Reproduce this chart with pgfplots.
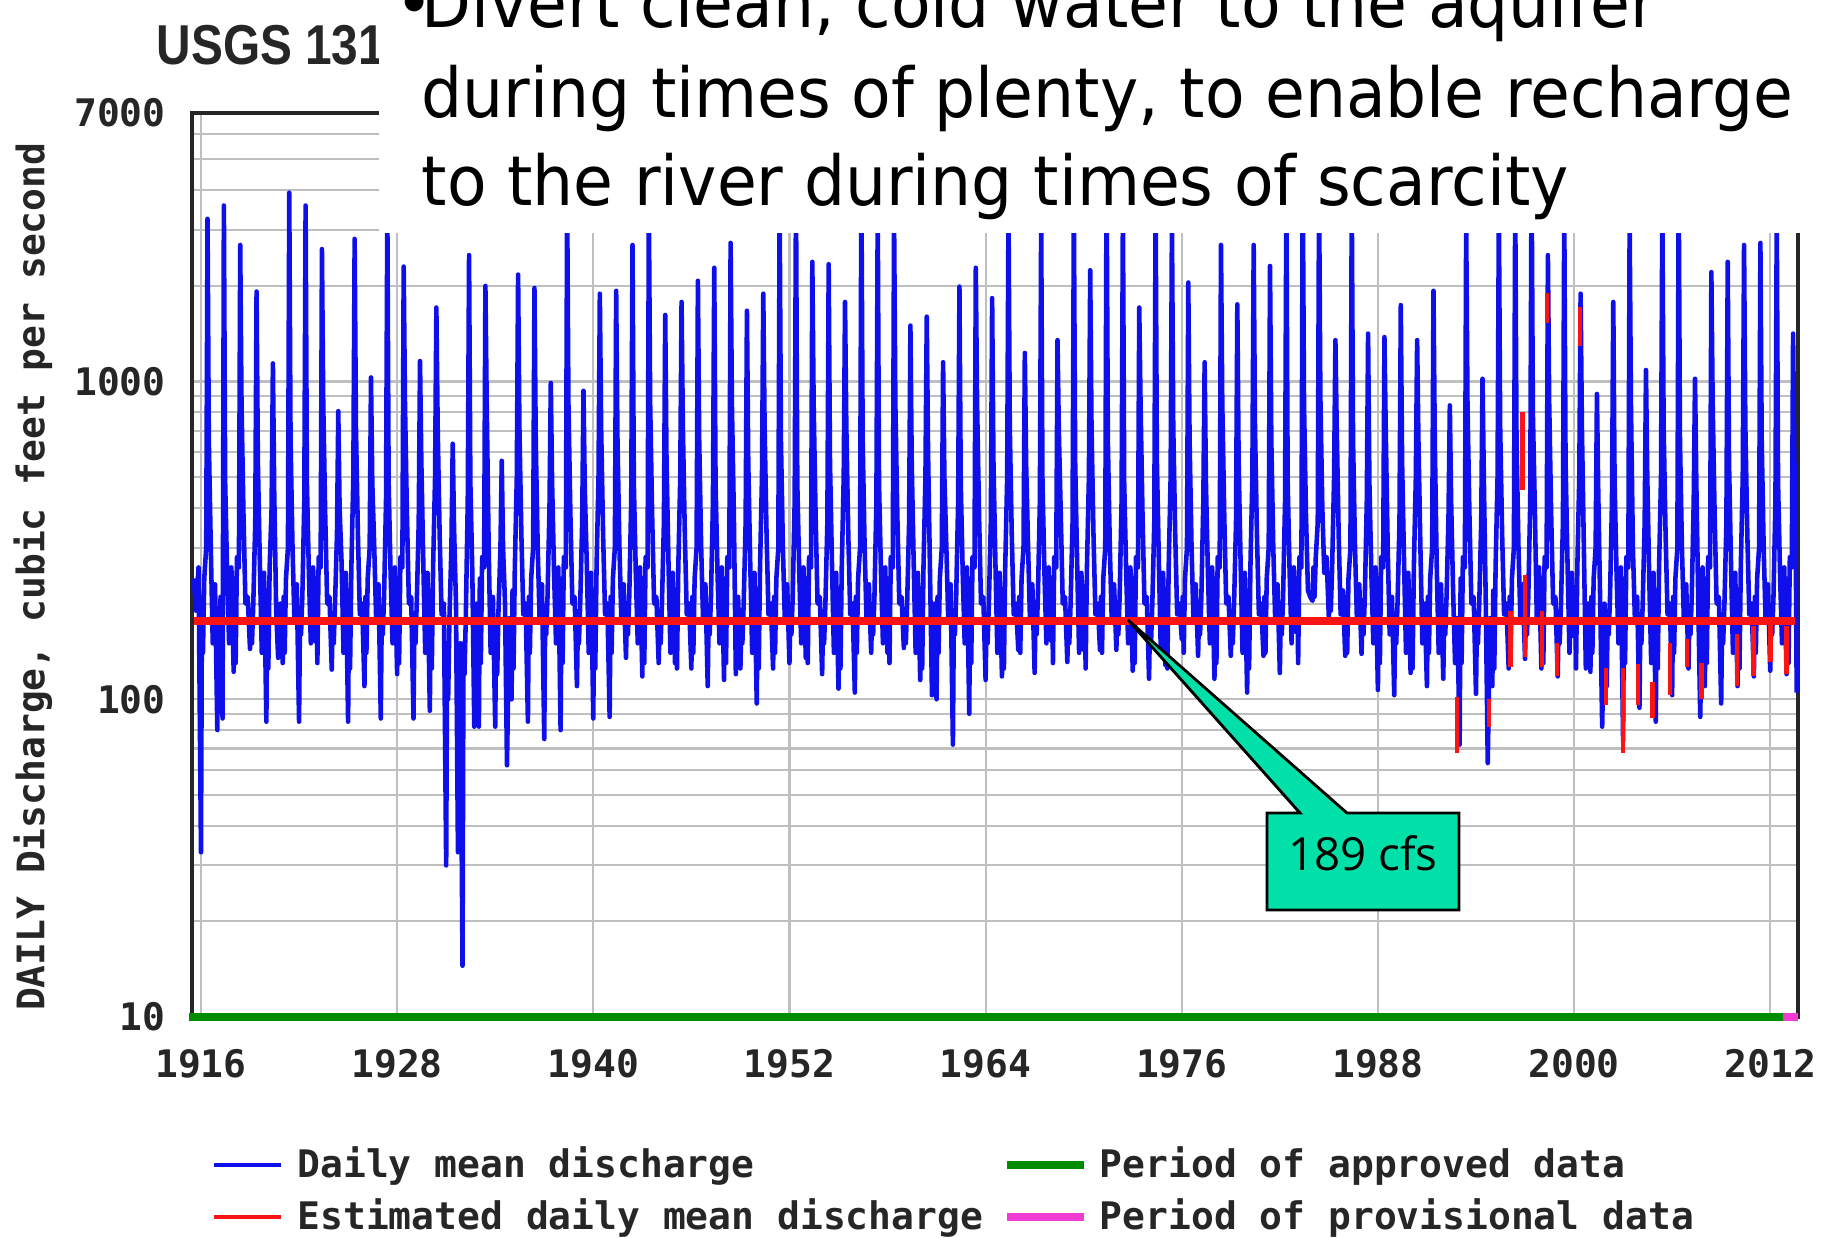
\documentclass[border=0pt]{standalone}
\usepackage{pgfplots}
\pgfplotsset{compat=1.18}
\usepackage{fontspec}
\setmainfont{DejaVu Sans}
\newfontfamily\monob{DejaVu Sans Mono}
\newfontfamily\tahoma[FakeStretch=0.94]{DejaVu Sans}
\newfontfamily\titlef[FakeStretch=0.85]{Liberation Sans}
\newfontfamily\calloutf{Open Sans}
\definecolor{qblue}{RGB}{15,15,235}
\definecolor{qred}{RGB}{250,20,20}
\definecolor{qgreen}{RGB}{0,140,0}
\definecolor{qmag}{RGB}{240,60,210}
\definecolor{qteal}{RGB}{0,224,168}
\begin{document}
\begin{tikzpicture}
\useasboundingbox (0,0) rectangle (182.9mm,-123.7mm);
\begin{axis}[
  at={(19.2mm,-101.7mm)}, anchor=south west,
  scale only axis, width=160.6mm, height=90.4mm,
  xmin=1915.45, xmax=2013.7,
  ymode=log, ymin=10, ymax=7000,
  xtick={1916,1928,1940,1952,1964,1976,1988,2000,2012},
  xticklabels={1916,1928,1940,1952,1964,1976,1988,2000,2012},
  ytick={10,100,1000,7000},
  yticklabels={10,100,1000,7000},
  minor ytick={20,30,40,50,60,70,80,90,200,300,400,500,600,700,800,900,2000,3000,4000,5000,6000},
  grid=both,
  major grid style={draw=black!25, line width=0.6pt},
  minor grid style={draw=black!25, line width=0.6pt},
  major tick length=0pt, minor tick length=0pt,
  axis line style={draw=black!85, line width=1.1pt},
  tick label style={font=\monob\bfseries\fontsize{10.8}{12}\selectfont, text=black!85},
  yticklabel style={xshift=-1.4mm},
  xticklabel style={yshift=-2mm},
  ylabel={DAILY Discharge, cubic feet per second},
  ylabel style={font=\monob\bfseries\fontsize{10.8}{12}\selectfont, text=black!85, at={(axis description cs:-0.099,0.487)}, anchor=center},
  clip=false,
  no markers,
  unbounded coords=jump,
  every axis plot/.append style={line join=round},
  legend columns=2,
  legend cell align=left,
  legend image code/.code={\draw[#1] (0mm,0mm) -- (6.7mm,0mm); \path (7.3mm,0mm);},
  legend style={at={(axis description cs:0.012,-0.134)}, anchor=north west, draw=none, fill=none, inner sep=0pt,
    font=\monob\bfseries\fontsize{10.8}{12}\selectfont, text=black!85,
    nodes={inner sep=0.8mm},
    /tikz/every even column/.append style={column sep=1.2mm}, row sep=0mm},
]
\addplot[qblue, line width=1.3pt] coordinates {
(1915.55,240) (1915.70,190) (1915.85,260)
(1916.00,33) (1916.06,210) (1916.12,140) (1916.20,240) (1916.32,300) (1916.40,3250) (1916.48,650) (1916.60,300) (1916.72,150) (1916.86,230)
(1917.00,80) (1917.06,190) (1917.12,160) (1917.20,210) (1917.32,87) (1917.40,3580) (1917.48,480) (1917.60,250) (1917.72,150) (1917.86,260)
(1918.00,122) (1918.06,240) (1918.12,130) (1918.20,280) (1918.32,260) (1918.40,2690) (1918.48,850) (1918.60,380) (1918.72,200) (1918.86,210)
(1919.00,144) (1919.06,180) (1919.12,150) (1919.20,200) (1919.32,360) (1919.40,1920) (1919.48,560) (1919.60,270) (1919.72,140) (1919.86,250)
(1920.00,85) (1920.06,220) (1920.12,125) (1920.20,260) (1920.32,400) (1920.40,1140) (1920.48,450) (1920.60,190) (1920.72,135) (1920.86,200)
(1921.00,130) (1921.06,210) (1921.12,140) (1921.20,240) (1921.32,300) (1921.40,3930) (1921.48,650) (1921.60,300) (1921.72,175) (1921.86,230)
(1922.00,85) (1922.06,190) (1922.12,160) (1922.20,210) (1922.32,420) (1922.40,3580) (1922.48,480) (1922.60,250) (1922.72,150) (1922.86,260)
(1923.00,152) (1923.06,240) (1923.12,130) (1923.20,280) (1923.32,260) (1923.40,2610) (1923.48,850) (1923.60,380) (1923.72,200) (1923.86,210)
(1924.00,124) (1924.06,180) (1924.12,150) (1924.20,200) (1924.32,330) (1924.40,807) (1924.48,400) (1924.60,270) (1924.72,140) (1924.86,250)
(1925.00,85) (1925.06,220) (1925.12,125) (1925.20,260) (1925.32,500) (1925.40,2810) (1925.48,720) (1925.60,330) (1925.72,185) (1925.86,200)
(1926.00,110) (1926.06,210) (1926.12,140) (1926.20,240) (1926.32,300) (1926.40,1030) (1926.48,480) (1926.60,300) (1926.72,175) (1926.86,230)
(1927.00,87) (1927.06,190) (1927.12,160) (1927.20,210) (1927.32,420) (1927.40,3500) (1927.48,480) (1927.60,250) (1927.72,150) (1927.86,260)
(1928.00,120) (1928.06,240) (1928.12,130) (1928.20,280) (1928.32,260) (1928.40,2300) (1928.48,850) (1928.60,380) (1928.72,200) (1928.86,210)
(1929.00,87) (1929.06,180) (1929.12,150) (1929.20,200) (1929.32,360) (1929.40,1160) (1929.48,560) (1929.60,270) (1929.72,140) (1929.86,250)
(1930.00,92) (1930.06,220) (1930.12,125) (1930.20,260) (1930.32,500) (1930.40,1710) (1930.48,720) (1930.60,330) (1930.72,185) (1930.86,200)
(1931.00,30) (1931.06,150) (1931.12,100) (1931.20,180) (1931.32,300) (1931.40,637) (1931.48,350) (1931.60,200) (1931.72,33) (1931.86,150)
(1932.00,14.5) (1932.06,150) (1932.12,120) (1932.20,180) (1932.32,420) (1932.40,2500) (1932.48,480) (1932.60,250) (1932.72,82) (1932.86,200)
(1933.00,82) (1933.06,240) (1933.12,130) (1933.20,280) (1933.32,260) (1933.40,2000) (1933.48,850) (1933.60,300) (1933.72,140) (1933.86,210)
(1934.00,82) (1934.06,170) (1934.12,120) (1934.20,190) (1934.32,300) (1934.40,563) (1934.48,300) (1934.60,200) (1934.72,62) (1934.86,180)
(1935.00,100) (1935.06,220) (1935.12,125) (1935.20,260) (1935.32,500) (1935.40,2170) (1935.48,720) (1935.60,330) (1935.72,185) (1935.86,200)
(1936.00,85) (1936.06,210) (1936.12,140) (1936.20,240) (1936.32,300) (1936.40,1970) (1936.48,650) (1936.60,300) (1936.72,175) (1936.86,230)
(1937.00,75) (1937.06,190) (1937.12,160) (1937.20,210) (1937.32,400) (1937.40,990) (1937.48,480) (1937.60,250) (1937.72,150) (1937.86,260)
(1938.00,80) (1938.06,240) (1938.12,130) (1938.20,280) (1938.32,260) (1938.40,3800) (1938.48,850) (1938.60,380) (1938.72,200) (1938.86,210)
(1939.00,110) (1939.06,180) (1939.12,150) (1939.20,200) (1939.32,360) (1939.40,935) (1939.48,460) (1939.60,270) (1939.72,140) (1939.86,250)
(1940.00,87) (1940.06,220) (1940.12,125) (1940.20,260) (1940.32,500) (1940.40,1890) (1940.48,720) (1940.60,330) (1940.72,185) (1940.86,200)
(1941.00,88) (1941.06,210) (1941.12,140) (1941.20,240) (1941.32,300) (1941.40,1930) (1941.48,650) (1941.60,300) (1941.72,175) (1941.86,230)
(1942.00,135) (1942.06,190) (1942.12,160) (1942.20,210) (1942.32,420) (1942.40,2690) (1942.48,480) (1942.60,250) (1942.72,150) (1942.86,260)
(1943.00,118) (1943.06,240) (1943.12,130) (1943.20,280) (1943.32,260) (1943.40,3500) (1943.48,850) (1943.60,380) (1943.72,200) (1943.86,210)
(1944.00,130) (1944.06,180) (1944.12,150) (1944.20,200) (1944.32,360) (1944.40,1620) (1944.48,560) (1944.60,270) (1944.72,140) (1944.86,250)
(1945.00,130) (1945.06,220) (1945.12,125) (1945.20,260) (1945.32,500) (1945.40,1780) (1945.48,720) (1945.60,330) (1945.72,185) (1945.86,200)
(1946.00,125) (1946.06,210) (1946.12,140) (1946.20,240) (1946.32,300) (1946.40,2075) (1946.48,650) (1946.60,300) (1946.72,175) (1946.86,230)
(1947.00,110) (1947.06,190) (1947.12,160) (1947.20,210) (1947.32,420) (1947.40,2280) (1947.48,480) (1947.60,250) (1947.72,150) (1947.86,260)
(1948.00,115) (1948.06,240) (1948.12,130) (1948.20,280) (1948.32,260) (1948.40,2730) (1948.48,850) (1948.60,380) (1948.72,120) (1948.86,210)
(1949.00,125) (1949.06,180) (1949.12,150) (1949.20,200) (1949.32,360) (1949.40,1670) (1949.48,560) (1949.60,270) (1949.72,140) (1949.86,250)
(1950.00,97) (1950.06,220) (1950.12,125) (1950.20,260) (1950.32,500) (1950.40,1890) (1950.48,720) (1950.60,330) (1950.72,185) (1950.86,200)
(1951.00,125) (1951.06,210) (1951.12,140) (1951.20,240) (1951.32,300) (1951.40,3600) (1951.48,650) (1951.60,300) (1951.72,175) (1951.86,230)
(1952.00,130) (1952.06,190) (1952.12,160) (1952.20,210) (1952.32,420) (1952.40,4000) (1952.48,480) (1952.60,250) (1952.72,150) (1952.86,260)
(1953.00,135) (1953.06,240) (1953.12,130) (1953.20,280) (1953.32,260) (1953.40,2380) (1953.48,850) (1953.60,380) (1953.72,200) (1953.86,210)
(1954.00,120) (1954.06,180) (1954.12,150) (1954.20,200) (1954.32,360) (1954.40,2340) (1954.48,560) (1954.60,270) (1954.72,140) (1954.86,250)
(1955.00,108) (1955.06,220) (1955.12,125) (1955.20,260) (1955.32,500) (1955.40,1780) (1955.48,720) (1955.60,330) (1955.72,185) (1955.86,200)
(1956.00,105) (1956.06,210) (1956.12,140) (1956.20,240) (1956.32,300) (1956.40,4200) (1956.48,650) (1956.60,300) (1956.72,175) (1956.86,230)
(1957.00,140) (1957.06,190) (1957.12,160) (1957.20,210) (1957.32,420) (1957.40,3500) (1957.48,480) (1957.60,250) (1957.72,150) (1957.86,260)
(1958.00,140) (1958.06,240) (1958.12,130) (1958.20,280) (1958.32,260) (1958.40,3300) (1958.48,850) (1958.60,380) (1958.72,200) (1958.86,210)
(1959.00,145) (1959.06,180) (1959.12,150) (1959.20,200) (1959.32,360) (1959.40,1500) (1959.48,560) (1959.60,270) (1959.72,140) (1959.86,250)
(1960.00,115) (1960.06,220) (1960.12,125) (1960.20,260) (1960.32,500) (1960.40,1600) (1960.48,600) (1960.60,250) (1960.72,103) (1960.86,200)
(1961.00,100) (1961.06,210) (1961.12,140) (1961.20,240) (1961.32,300) (1961.40,1150) (1961.48,500) (1961.60,300) (1961.72,175) (1961.86,230)
(1962.00,72) (1962.06,190) (1962.12,160) (1962.20,210) (1962.32,420) (1962.40,1990) (1962.48,480) (1962.60,250) (1962.72,150) (1962.86,260)
(1963.00,90) (1963.06,240) (1963.12,130) (1963.20,280) (1963.32,260) (1963.40,2280) (1963.48,850) (1963.60,380) (1963.72,200) (1963.86,210)
(1964.00,115) (1964.06,180) (1964.12,150) (1964.20,200) (1964.32,360) (1964.40,1830) (1964.48,560) (1964.60,270) (1964.72,140) (1964.86,250)
(1965.00,118) (1965.06,220) (1965.12,125) (1965.20,260) (1965.32,500) (1965.40,3500) (1965.48,720) (1965.60,330) (1965.72,185) (1965.86,200)
(1966.00,143) (1966.06,210) (1966.12,140) (1966.20,240) (1966.32,300) (1966.40,1230) (1966.48,550) (1966.60,300) (1966.72,175) (1966.86,230)
(1967.00,121) (1967.06,190) (1967.12,160) (1967.20,210) (1967.32,420) (1967.40,3200) (1967.48,480) (1967.60,250) (1967.72,150) (1967.86,260)
(1968.00,153) (1968.06,240) (1968.12,130) (1968.20,280) (1968.32,260) (1968.40,1350) (1968.48,700) (1968.60,380) (1968.72,200) (1968.86,210)
(1969.00,131) (1969.06,180) (1969.12,150) (1969.20,200) (1969.32,360) (1969.40,3500) (1969.48,560) (1969.60,270) (1969.72,140) (1969.86,250)
(1970.00,143) (1970.06,220) (1970.12,125) (1970.20,260) (1970.32,500) (1970.40,2240) (1970.48,720) (1970.60,330) (1970.72,185) (1970.86,200)
(1971.00,143) (1971.06,210) (1971.12,140) (1971.20,240) (1971.32,300) (1971.40,4500) (1971.48,650) (1971.60,300) (1971.72,175) (1971.86,230)
(1972.00,143) (1972.06,190) (1972.12,160) (1972.20,210) (1972.32,420) (1972.40,3500) (1972.48,480) (1972.60,250) (1972.72,150) (1972.86,260)
(1973.00,123) (1973.06,240) (1973.12,130) (1973.20,280) (1973.32,260) (1973.40,1710) (1973.48,850) (1973.60,380) (1973.72,200) (1973.86,210)
(1974.00,116) (1974.06,180) (1974.12,150) (1974.20,200) (1974.32,360) (1974.40,3600) (1974.48,560) (1974.60,270) (1974.72,140) (1974.86,250)
(1975.00,128) (1975.06,220) (1975.12,125) (1975.20,260) (1975.32,500) (1975.40,3200) (1975.48,720) (1975.60,330) (1975.72,185) (1975.86,200)
(1976.00,155) (1976.06,210) (1976.12,140) (1976.20,240) (1976.32,300) (1976.40,2050) (1976.48,650) (1976.60,300) (1976.72,175) (1976.86,230)
(1977.00,137) (1977.06,190) (1977.12,160) (1977.20,210) (1977.32,420) (1977.40,1150) (1977.48,480) (1977.60,250) (1977.72,150) (1977.86,260)
(1978.00,116) (1978.06,240) (1978.12,130) (1978.20,280) (1978.32,260) (1978.40,2690) (1978.48,850) (1978.60,380) (1978.72,200) (1978.86,210)
(1979.00,137) (1979.06,180) (1979.12,150) (1979.20,200) (1979.32,360) (1979.40,1750) (1979.48,560) (1979.60,270) (1979.72,140) (1979.86,250)
(1980.00,105) (1980.06,220) (1980.12,125) (1980.20,260) (1980.32,500) (1980.40,2690) (1980.48,720) (1980.60,330) (1980.72,185) (1980.86,200)
(1981.00,137) (1981.06,210) (1981.12,140) (1981.20,240) (1981.32,300) (1981.40,2310) (1981.48,650) (1981.60,300) (1981.72,175) (1981.86,230)
(1982.00,121) (1982.06,190) (1982.12,160) (1982.20,210) (1982.32,420) (1982.40,3800) (1982.48,480) (1982.60,250) (1982.72,150) (1982.86,260)
(1983.00,163) (1983.06,240) (1983.12,130) (1983.20,280) (1983.32,260) (1983.40,4500) (1983.48,850) (1983.60,380) (1983.72,220) (1983.86,210)
(1984.00,204) (1984.06,260) (1984.12,210) (1984.20,280) (1984.32,360) (1984.40,4000) (1984.48,900) (1984.60,400) (1984.72,250) (1984.86,280)
(1985.00,180) (1985.06,240) (1985.12,190) (1985.20,260) (1985.32,500) (1985.40,1350) (1985.48,720) (1985.60,330) (1985.72,185) (1985.86,220)
(1986.00,137) (1986.06,210) (1986.12,140) (1986.20,240) (1986.32,300) (1986.40,3800) (1986.48,650) (1986.60,300) (1986.72,175) (1986.86,230)
(1987.00,139) (1987.06,190) (1987.12,160) (1987.20,210) (1987.32,420) (1987.40,1415) (1987.48,480) (1987.60,250) (1987.72,150) (1987.86,260)
(1988.00,107) (1988.06,240) (1988.12,130) (1988.20,280) (1988.32,260) (1988.40,1380) (1988.48,700) (1988.60,300) (1988.72,160) (1988.86,210)
(1989.00,103) (1989.06,180) (1989.12,150) (1989.20,200) (1989.32,360) (1989.40,1740) (1989.48,560) (1989.60,270) (1989.72,140) (1989.86,250)
(1990.00,121) (1990.06,220) (1990.12,125) (1990.20,260) (1990.32,500) (1990.40,1350) (1990.48,650) (1990.60,300) (1990.72,150) (1990.86,200)
(1991.00,110) (1991.06,210) (1991.12,140) (1991.20,240) (1991.32,300) (1991.40,1930) (1991.48,650) (1991.60,260) (1991.72,140) (1991.86,230)
(1992.00,116) (1992.06,190) (1992.12,160) (1992.20,210) (1992.32,380) (1992.40,841) (1992.48,420) (1992.60,220) (1992.72,130) (1992.86,180)
(1993.00,72) (1993.06,240) (1993.12,130) (1993.20,280) (1993.32,260) (1993.40,3200) (1993.48,850) (1993.60,380) (1993.72,200) (1993.86,210)
(1994.00,104) (1994.06,180) (1994.12,150) (1994.20,200) (1994.32,360) (1994.40,1020) (1994.48,500) (1994.60,200) (1994.72,63) (1994.86,180)
(1995.00,110) (1995.06,220) (1995.12,125) (1995.20,260) (1995.32,500) (1995.40,3500) (1995.48,720) (1995.60,330) (1995.72,185) (1995.86,200)
(1996.00,125) (1996.06,210) (1996.12,140) (1996.20,240) (1996.32,300) (1996.40,3800) (1996.48,650) (1996.60,300) (1996.72,175) (1996.86,230)
(1997.00,134) (1997.06,190) (1997.12,160) (1997.20,210) (1997.32,420) (1997.40,4800) (1997.48,800) (1997.60,400) (1997.72,180) (1997.86,260)
(1998.00,125) (1998.06,240) (1998.12,130) (1998.20,280) (1998.32,260) (1998.40,2500) (1998.48,850) (1998.60,380) (1998.72,200) (1998.86,210)
(1999.00,118) (1999.06,180) (1999.12,150) (1999.20,200) (1999.32,360) (1999.40,3500) (1999.48,560) (1999.60,270) (1999.72,140) (1999.86,250)
(2000.00,158) (2000.06,220) (2000.12,125) (2000.20,260) (2000.32,500) (2000.40,1890) (2000.48,720) (2000.60,300) (2000.72,125) (2000.86,200)
(2001.00,122) (2001.06,210) (2001.12,140) (2001.20,240) (2001.32,300) (2001.40,914) (2001.48,450) (2001.60,200) (2001.72,82) (2001.86,200)
(2002.00,110) (2002.06,190) (2002.12,160) (2002.20,210) (2002.32,420) (2002.40,1780) (2002.48,480) (2002.60,250) (2002.72,150) (2002.86,260)
(2003.00,74) (2003.06,240) (2003.12,130) (2003.20,280) (2003.32,260) (2003.40,3200) (2003.48,850) (2003.60,300) (2003.72,180) (2003.86,210)
(2004.00,94) (2004.06,180) (2004.12,150) (2004.20,200) (2004.32,360) (2004.40,1087) (2004.48,500) (2004.60,240) (2004.72,130) (2004.86,250)
(2005.00,85) (2005.06,220) (2005.12,125) (2005.20,260) (2005.32,500) (2005.40,3500) (2005.48,720) (2005.60,330) (2005.72,185) (2005.86,200)
(2006.00,103) (2006.06,210) (2006.12,140) (2006.20,240) (2006.32,300) (2006.40,4200) (2006.48,650) (2006.60,300) (2006.72,175) (2006.86,230)
(2007.00,125) (2007.06,190) (2007.12,160) (2007.20,210) (2007.32,420) (2007.40,1020) (2007.48,480) (2007.60,200) (2007.72,88) (2007.86,260)
(2008.00,110) (2008.06,240) (2008.12,130) (2008.20,280) (2008.32,260) (2008.40,2210) (2008.48,850) (2008.60,380) (2008.72,200) (2008.86,210)
(2009.00,97) (2009.06,180) (2009.12,150) (2009.20,200) (2009.32,360) (2009.40,2380) (2009.48,560) (2009.60,270) (2009.72,140) (2009.86,250)
(2010.00,110) (2010.06,220) (2010.12,125) (2010.20,260) (2010.32,500) (2010.40,2690) (2010.48,720) (2010.60,330) (2010.72,185) (2010.86,200)
(2011.00,118) (2011.06,210) (2011.12,140) (2011.20,240) (2011.32,300) (2011.40,2730) (2011.48,650) (2011.60,300) (2011.72,175) (2011.86,230)
(2012.00,123) (2012.06,190) (2012.12,160) (2012.20,210) (2012.32,420) (2012.40,3300) (2012.48,480) (2012.60,250) (2012.72,150) (2012.86,260)
(2013.00,120) (2013.06,240) (2013.12,130) (2013.20,280) (2013.32,260) (2013.40,1415) (2013.47,600) (2013.55,380) (2013.62,105)
};
\addlegendentry{Daily mean discharge}
\addplot[qgreen, line width=2.2pt, legend image code/.code={\draw[qgreen, line width=2.2pt] (0mm,0mm) -- (7.7mm,0mm); \path (8.1mm,0mm);}] coordinates {(1915.25,10) (2012.8,10)};
\addlegendentry{Period of approved data}
\addplot[qred, line width=1.3pt] coordinates {
(1992.84,102) (1992.84,68) (1992.84,nan)
(1994.80,100) (1994.80,82) (1994.80,nan)
(1996.10,190) (1996.10,126) (1996.10,nan)
(1996.85,800) (1996.85,455) (1996.85,nan)
(1997.00,246) (1997.00,136) (1997.00,nan)
(1998.04,190) (1998.04,126) (1998.04,nan)
(1998.35,1900) (1998.35,1530) (1998.35,nan)
(1998.96,150) (1998.96,118) (1998.96,nan)
(2000.37,1710) (2000.37,1290) (2000.37,nan)
(2001.96,125) (2001.96,96) (2001.96,nan)
(2003.00,125) (2003.00,68) (2003.00,nan)
(2003.90,129) (2003.90,96) (2003.90,nan)
(2004.80,113) (2004.80,87) (2004.80,nan)
(2005.88,150) (2005.88,103) (2005.88,nan)
(2006.90,155) (2006.90,126) (2006.90,nan)
(2007.80,130) (2007.80,100) (2007.80,nan)
(2009.96,160) (2009.96,110) (2009.96,nan)
(2010.97,170) (2010.97,118) (2010.97,nan)
(2012.00,178) (2012.00,131) (2012.00,nan)
(2013.00,170) (2013.00,120)
};
\addlegendentry{Estimated daily mean discharge}
\addplot[qmag, line width=2.2pt, legend image code/.code={\draw[qmag, line width=2.2pt] (0mm,0mm) -- (7.7mm,0mm); \path (8.1mm,0mm);}] coordinates {(2012.8,10) (2013.7,10)};
\addlegendentry{Period of provisional data}
\addplot[qred, line width=2.2pt, forget plot] coordinates {(1915.6,176) (2013.5,176)};
\end{axis}
\begin{scope}[x=0.1mm,y=-0.1mm]
\node[anchor=base west, inner sep=0pt, font=\titlef\bfseries\fontsize{16}{18}\selectfont, text=black!85] at (156,64) {USGS 131};
\fill[white] (379,-40) rectangle (1860,233);
\node[anchor=base west, inner sep=0pt, font=\tahoma\fontsize{19.6}{23}\selectfont] at (421,27) {\llap{•\kern-0.17em}Divert clean, cold water to the aquifer};
\node[anchor=base west, inner sep=0pt, font=\tahoma\fontsize{19.6}{23}\selectfont] at (421,117) {during times of plenty, to enable recharge};
\node[anchor=base west, inner sep=0pt, font=\tahoma\fontsize{19.6}{23}\selectfont] at (421,205) {to the river during times of scarcity};
\draw[line width=0.8pt, fill=qteal, line join=miter] (1267,813) -- (1300,813) -- (1128,620) -- (1347,813) -- (1459,813) -- (1459,910) -- (1267,910) -- cycle;
\node[anchor=base, inner sep=0pt, font=\calloutf\fontsize{13}{15}\selectfont] at (1363,870) {189 cfs};
\end{scope}
\end{tikzpicture}
\end{document}
